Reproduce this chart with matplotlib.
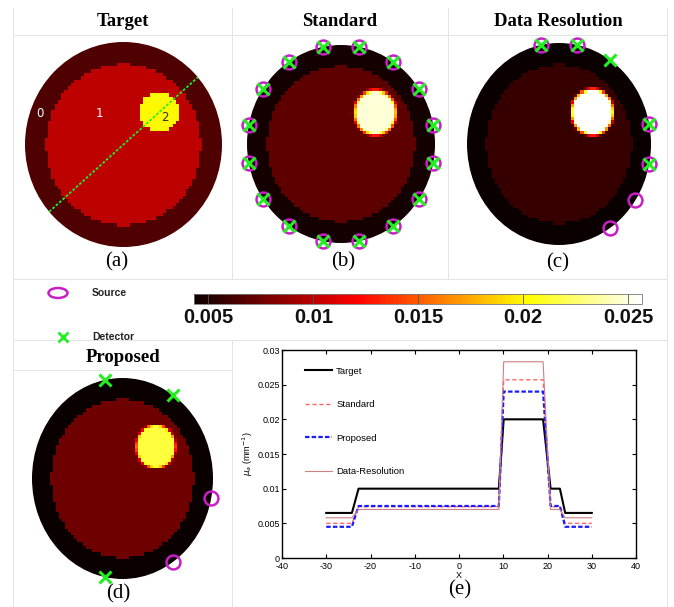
import numpy as np
import matplotlib
matplotlib.use("Agg")
import matplotlib.pyplot as plt
from matplotlib.patches import Circle, Ellipse
from matplotlib.colors import Normalize
from matplotlib import cm

plt.rcParams["axes.unicode_minus"] = False

W, H = 674, 607

# --- profile along the dotted line in (a) -------------------------------
profile_x   = [-30, -24.2, -22.7, 9.0, 10.1, 19.0, 20.7, 22.8, 24.0, 30]
target_mu   = [0.0065, 0.0065, 0.0100, 0.0100, 0.0200, 0.0200, 0.0100, 0.0100, 0.0065, 0.0065]
standard_mu = [0.0050, 0.0050, 0.0074, 0.0074, 0.0257, 0.0257, 0.0074, 0.0074, 0.0050, 0.0050]
proposed_mu = [0.0045, 0.0045, 0.0075, 0.0075, 0.0240, 0.0240, 0.0075, 0.0075, 0.0045, 0.0045]
datares_mu  = [0.0058, 0.0058, 0.0070, 0.0070, 0.0283, 0.0283, 0.0070, 0.0070, 0.0058, 0.0058]

x_ticks = [-40, -30, -20, -10, 0, 10, 20, 30, 40]
y_ticks = [0, 0.005, 0.01, 0.015, 0.02, 0.025, 0.03]
y_ticklabels = ["0", "0.005", "0.01", "0.015", "0.02", "0.025", "0.03"]

# --- images: (outer, inner, inclusion) absorption levels ---------------
target_levels   = (0.0065, 0.0100, 0.0200)
standard_levels = (0.0047, 0.0070, 0.0248)
datares_levels  = (0.0044, 0.0058, 0.0283)
proposed_levels = (0.0044, 0.0075, 0.0215)

# source / detector angles on the boundary (deg)
standard_sources   = [11.25, 33.75, 56.25, 78.75, 101.25, 123.75, 146.25, 168.75,
                      191.25, 213.75, 236.25, 258.75, 281.25, 303.75, 326.25, 348.75]
standard_detectors = standard_sources
datares_sources    = [101.25, 78.75, 11.25, -11.25, -33.75, -56.25]
datares_detectors  = [101.25, 78.75, 56.25, 11.25, -11.25]
proposed_sources   = [-11.25, -56.25]
proposed_detectors = [101.25, 56.25, 258.75]

cbar_ticks = [0.005, 0.01, 0.015, 0.02, 0.025]
cbar_ticklabels = ["0.005", "0.01", "0.015", "0.02", "0.025"]

# phantom geometry (mm)
outer_r, inner_r = 30.0, 23.6
incl_dist, incl_angle, incl_r = 14.5, 41.0, 6.0
pixel = 1.0

cmap = plt.get_cmap("hot")
norm = Normalize(vmin=0.00432, vmax=0.02564)
MAGENTA = "#c81ec8"
GREEN = "#22ee22"

centers = np.arange(-outer_r + pixel / 2, outer_r, pixel)
X, Y = np.meshgrid(centers, centers)
d_in = np.hypot(X, Y)
cx = incl_dist * np.cos(np.radians(incl_angle))
cy = incl_dist * np.sin(np.radians(incl_angle))
d_inc = np.hypot(X - cx, Y - cy)


def panel_field(levels, edge):
    v0, v1, v2 = levels
    if edge > 0:
        t = np.clip((incl_r + edge - d_inc) / edge, 0, 1)
    else:
        t = (d_inc <= incl_r).astype(float)
    field = v1 + t * (v2 - v1)
    return np.ma.masked_where(d_in > inner_r, field)


def rect(x0, y0, x1, y1):
    return [x0 / W, 1 - y1 / H, (x1 - x0) / W, (y1 - y0) / H]


fig = plt.figure(figsize=(W / 100, H / 100), dpi=100)

# overlay in pixel coordinates for frame lines and labels
base = fig.add_axes([0, 0, 1, 1], zorder=-1)
base.set_xlim(0, W)
base.set_ylim(H, 0)
base.axis("off")
gl = dict(color="#e4e4e4", lw=0.7)
for y in (35, 279, 340):
    base.plot([13, 667], [y, y], **gl)
base.plot([13, 232], [370, 370], **gl)
base.plot([13, 13], [8, 607], **gl)
base.plot([667, 667], [8, 607], **gl)
base.plot([232, 232], [8, 279], **gl)
base.plot([232, 232], [340, 607], **gl)
base.plot([448, 448], [8, 279], **gl)

title_kw = dict(ha="center", va="center", fontsize=13.5, fontweight="bold",
                family="Liberation Serif")
lab_kw = dict(ha="center", va="center", fontsize=15, family="Liberation Serif")
for txt, x, y in [("Target", 123, 22), ("Standard", 340, 22),
                  ("Data Resolution", 558, 22), ("Proposed", 123, 357)]:
    base.text(x, y, txt, **title_kw)
for txt, x, y in [("(a)", 117, 262), ("(b)", 343, 262), ("(c)", 558, 263),
                  ("(d)", 118, 594), ("(e)", 460, 590)]:
    base.text(x, y, txt, **lab_kw)

# key
base.add_patch(Ellipse((58, 293), 19, 10, fill=False, ec=MAGENTA, lw=1.8))
base.plot([63], [337], "x", color=GREEN, ms=7, mew=2)
base.text(92, 293, "Source", fontsize=7.5, fontweight="bold", va="center",
          family="Liberation Sans", color="#222222")
base.text(92, 337, "Detector", fontsize=7.5, fontweight="bold", va="center",
          family="Liberation Sans", color="#222222")


def draw_panel(box, levels, edge, sources=(), detectors=()):
    ax = fig.add_axes(rect(*box))
    ax.set_xlim(-outer_r, outer_r)
    ax.set_ylim(-outer_r, outer_r)
    ax.axis("off")
    ax.add_patch(Circle((0, 0), outer_r, facecolor=cmap(norm(levels[0])),
                        edgecolor="none", zorder=0))
    ax.imshow(panel_field(levels, edge), cmap=cmap, norm=norm,
              extent=[-outer_r, outer_r, -outer_r, outer_r], origin="lower",
              interpolation="nearest", aspect="auto", zorder=1)
    a = np.radians(sources)
    ax.plot(outer_r * np.cos(a), outer_r * np.sin(a), "o", mfc="none",
            mec=MAGENTA, ms=10, mew=1.8, clip_on=False, zorder=3)
    a = np.radians(detectors)
    ax.plot(outer_r * np.cos(a), outer_r * np.sin(a), "x", color=GREEN,
            ms=8, mew=2.2, clip_on=False, zorder=4)
    return ax


ax_a = draw_panel((25, 42, 222, 247), target_levels, 0)
la = np.radians(incl_angle)
ax_a.plot([-outer_r * np.cos(la), outer_r * np.cos(la)],
          [-outer_r * np.sin(la), outer_r * np.sin(la)],
          color=GREEN, lw=1.3, ls=(0, (1.5, 1)), zorder=5)
for txt, x, y, c in [("0", -25.3, 9.1, "white"), ("1", -7.3, 9.1, "white"),
                     ("2", 12.5, 7.9, "#333333")]:
    ax_a.text(x, y, txt, color=c, fontsize=8.5, ha="center", va="center", zorder=6)

draw_panel((247, 45, 435, 243), standard_levels, 1.5,
           standard_sources, standard_detectors)
draw_panel((467, 43, 651, 245), datares_levels, 1.5,
           datares_sources, datares_detectors)
draw_panel((32, 378, 213, 579), proposed_levels, 1.0,
           proposed_sources, proposed_detectors)

# colorbar
cax = fig.add_axes(rect(194, 294, 641.7, 304))
cb = fig.colorbar(cm.ScalarMappable(norm=norm, cmap=cmap), cax=cax,
                  orientation="horizontal", ticks=cbar_ticks)
cax.set_xticklabels(cbar_ticklabels, fontsize=14.5, fontweight="bold",
                    family="Liberation Sans", color="#111111")
cax.tick_params(direction="in", length=7, width=0.6, color="#555555", pad=3)
cb.outline.set_linewidth(0.6)
cb.outline.set_edgecolor("#777777")

# profile plot
ax = fig.add_axes(rect(282, 350, 636, 558))
ax.plot(profile_x, target_mu, color="black", lw=1.5, label="Target")
ax.plot(profile_x, standard_mu, color="#ff6464", lw=1.0, ls=(0, (3, 2)), label="Standard")
ax.plot(profile_x, proposed_mu, color="#1a1aff", lw=1.6, ls=(0, (2, 1)), label="Proposed")
ax.plot(profile_x, datares_mu, color="#cc8080", lw=0.8, label="Data-Resolution")
ax.set_xlim(-40, 40)
ax.set_ylim(0, 0.03)
ax.set_xticks(x_ticks)
ax.set_yticks(y_ticks)
ax.set_yticklabels(y_ticklabels)
ax.tick_params(direction="in", top=True, right=True, labelsize=6.5, length=3,
               width=0.8)
ax.tick_params(axis="x", pad=3)
ax.tick_params(axis="y", pad=1.5)
for t in ax.get_xticklabels() + ax.get_yticklabels():
    t.set_family("Liberation Sans")
for s in ax.spines.values():
    s.set_linewidth(1.0)
ax.set_xlabel("X", fontsize=6.5, labelpad=0, family="Liberation Sans")
ax.set_ylabel(r"$\mu_a$ (mm$^{-1}$)", fontsize=6.5, labelpad=2, family="Liberation Sans")
ax.legend(loc="upper left", bbox_to_anchor=(0.065, 0.92), frameon=False,
          borderpad=0, borderaxespad=0, handlelength=2.9, handletextpad=0.4,
          labelspacing=2.6, prop=dict(family="Liberation Sans", size=6.8))

fig.savefig("out.png", dpi=100)
